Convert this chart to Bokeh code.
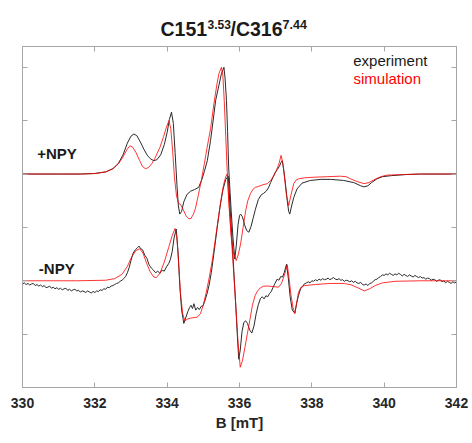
from bokeh.plotting import figure
from bokeh.layouts import column
from bokeh.models import Range1d, LinearAxis, FixedTicker, Label
from bokeh.embed import file_html
from bokeh.resources import INLINE

# ---------------- data (B in mT, signal relative to its own baseline) ----------------
x_ticks = [330, 332, 334, 336, 338, 340, 342]
y_ticks = [0, 1, 2, 3, 4, 5, 6]
offset_plus = 4.0
offset_minus = 2.0

plus_exp = [
    (330.0, 0.0), (331.0, 0.0), (331.6, 0.0), (332.0, 0.01), (332.3, 0.04), (332.5, 0.1), (332.65, 0.2),
    (332.78, 0.36), (332.9, 0.58), (333.0, 0.71), (333.08, 0.75), (333.16, 0.72), (333.26, 0.6),
    (333.36, 0.46), (333.46, 0.34), (333.55, 0.28), (333.63, 0.25), (333.72, 0.27), (333.82, 0.36),
    (333.92, 0.55), (334.0, 0.78), (334.06, 1.02), (334.12, 1.16), (334.17, 0.95), (334.22, 0.4),
    (334.27, -0.2), (334.31, -0.6), (334.35, -0.75), (334.4, -0.7), (334.46, -0.52), (334.55, -0.38),
    (334.65, -0.32), (334.76, -0.29), (334.87, -0.25), (334.95, -0.12), (335.03, 0.05), (335.11, 0.25),
    (335.2, 0.63), (335.28, 1.05), (335.34, 1.38), (335.43, 1.66), (335.5, 1.88), (335.57, 2.0),
    (335.6, 1.8), (335.64, 1.38), (335.67, 0.8), (335.7, 0.13), (335.74, -0.35), (335.77, -0.69),
    (335.82, -1.2), (335.87, -1.59), (335.91, -1.35), (335.96, -0.95), (336.0, -0.78), (336.03, -0.75),
    (336.08, -0.8), (336.14, -0.95), (336.2, -1.06), (336.26, -1.09), (336.32, -0.98), (336.38, -0.82),
    (336.44, -0.66), (336.52, -0.48), (336.6, -0.39), (336.67, -0.36), (336.74, -0.32), (336.8, -0.26),
    (336.86, -0.16), (336.92, -0.07), (336.98, 0.02), (337.04, 0.08), (337.1, 0.14), (337.15, 0.22),
    (337.18, 0.25), (337.22, 0.1), (337.27, -0.18), (337.32, -0.5), (337.36, -0.7), (337.39, -0.75),
    (337.44, -0.6), (337.5, -0.44), (337.59, -0.28), (337.73, -0.17), (337.96, -0.12), (338.25, -0.1),
    (338.52, -0.1), (338.88, -0.12), (339.16, -0.16), (339.35, -0.22), (339.44, -0.24), (339.55, -0.22),
    (339.65, -0.16), (339.8, -0.09), (339.95, -0.05), (340.2, -0.03), (340.6, -0.01), (341.0, 0.0),
    (342.0, 0.0),
]

plus_sim = [
    (330.0, 0.0), (331.0, 0.0), (331.6, 0.0), (332.0, 0.01), (332.3, 0.04), (332.5, 0.1), (332.65, 0.19),
    (332.78, 0.32), (332.88, 0.45), (332.97, 0.53), (333.05, 0.5), (333.14, 0.4), (333.24, 0.25),
    (333.32, 0.14), (333.4, 0.1), (333.48, 0.12), (333.58, 0.2), (333.68, 0.32), (333.8, 0.5),
    (333.9, 0.7), (333.98, 0.88), (334.05, 1.0), (334.1, 0.85), (334.15, 0.45), (334.2, -0.05),
    (334.26, -0.42), (334.32, -0.55), (334.37, -0.57), (334.44, -0.66), (334.52, -0.78), (334.6, -0.84),
    (334.66, -0.83), (334.72, -0.76), (334.78, -0.65), (334.86, -0.4), (334.95, -0.1), (335.03, 0.2),
    (335.1, 0.48), (335.2, 0.85), (335.3, 1.35), (335.38, 1.7), (335.43, 1.88), (335.5, 2.0),
    (335.54, 1.85), (335.58, 1.35), (335.62, 0.7), (335.66, 0.05), (335.71, -0.6), (335.77, -1.15),
    (335.83, -1.48), (335.91, -1.62), (335.97, -1.5), (336.03, -1.31), (336.1, -1.0), (336.17, -0.69),
    (336.23, -0.5), (336.3, -0.37), (336.38, -0.28), (336.44, -0.25), (336.53, -0.23), (336.65, -0.2),
    (336.77, -0.18), (336.86, -0.12), (336.95, -0.03), (337.02, 0.07), (337.09, 0.19), (337.15, 0.35),
    (337.2, 0.2), (337.25, -0.1), (337.3, -0.4), (337.36, -0.59), (337.42, -0.4), (337.5, -0.18),
    (337.57, -0.11), (337.64, -0.09), (337.8, -0.07), (338.05, -0.06), (338.4, -0.05), (338.79, -0.04),
    (338.95, -0.05), (339.07, -0.09), (339.25, -0.14), (339.44, -0.18), (339.58, -0.16), (339.71, -0.11),
    (339.9, -0.05), (340.08, -0.02), (340.5, -0.01), (341.0, 0.0), (342.0, 0.0),
]

minus_exp = [
    (330.00, -0.06), (330.05, -0.04), (330.10, -0.07), (330.15, -0.05), (330.20, -0.08), (330.25, -0.06),
    (330.30, -0.05), (330.35, -0.09), (330.40, -0.07), (330.45, -0.10), (330.50, -0.08), (330.55, -0.11),
    (330.60, -0.09), (330.65, -0.13), (330.70, -0.12), (330.75, -0.10), (330.80, -0.14), (330.85, -0.12),
    (330.90, -0.15), (330.95, -0.13), (331.00, -0.16), (331.05, -0.14), (331.10, -0.17), (331.15, -0.15),
    (331.20, -0.14), (331.25, -0.18), (331.30, -0.16), (331.35, -0.19), (331.40, -0.17), (331.45, -0.16),
    (331.50, -0.19), (331.55, -0.18), (331.60, -0.21), (331.65, -0.19), (331.70, -0.20), (331.75, -0.22),
    (331.80, -0.19), (331.85, -0.21), (331.90, -0.23), (331.95, -0.20), (332.00, -0.22), (332.05, -0.19),
    (332.10, -0.20), (332.15, -0.17), (332.20, -0.18), (332.25, -0.15), (332.30, -0.16), (332.35, -0.12),
    (332.40, -0.13), (332.45, -0.10), (332.50, -0.09), (332.55, -0.07), (332.60, -0.05), (332.65, -0.04),
    (332.70, -0.01), (332.75, 0.01), (332.80, 0.04), (332.85, 0.08), (332.90, 0.15), (332.95, 0.25),
    (333.00, 0.38), (333.06, 0.52), (333.12, 0.58), (333.18, 0.62), (333.22, 0.65),
    (333.27, 0.60), (333.32, 0.58), (333.38, 0.48), (333.44, 0.42), (333.50, 0.30), (333.56, 0.24),
    (333.62, 0.20), (333.68, 0.15), (333.74, 0.18), (333.80, 0.14), (333.86, 0.20), (333.92, 0.18),
    (333.98, 0.26), (334.04, 0.32), (334.09, 0.40), (334.14, 0.55), (334.19, 0.80), (334.25, 0.97),
    (334.30, 0.55), (334.35, -0.10), (334.40, -0.55), (334.46, -0.80), (334.52, -0.68), (334.57, -0.58),
    (334.62, -0.50), (334.66, -0.46), (334.70, -0.52), (334.74, -0.43), (334.79, -0.55), (334.84, -0.50),
    (334.89, -0.54), (334.94, -0.48), (334.99, -0.47), (335.04, -0.38), (335.10, -0.25), (335.16, -0.08),
    (335.22, 0.15), (335.30, 0.55), (335.38, 0.98), (335.46, 1.38), (335.54, 1.70), (335.62, 1.90),
    (335.69, 1.96), (335.75, 1.25), (335.80, 0.70), (335.85, 0.10), (335.90, -0.50), (335.95, -1.15),
    (335.98, -1.47), (336.02, -1.30), (336.07, -0.95), (336.12, -0.78), (336.17, -0.75), (336.22, -0.80),
    (336.28, -0.92), (336.34, -0.98), (336.40, -0.85), (336.46, -0.62), (336.52, -0.45), (336.58, -0.33),
    (336.63, -0.30), (336.68, -0.34), (336.73, -0.28), (336.78, -0.30), (336.83, -0.24), (336.88, -0.20),
    (336.93, -0.12), (336.98, -0.05), (337.04, 0.03), (337.09, 0.01), (337.14, 0.08), (337.19, 0.07),
    (337.24, 0.16), (337.30, 0.31), (337.35, 0.05), (337.40, -0.30), (337.46, -0.55), (337.53, -0.61),
    (337.58, -0.42), (337.63, -0.28), (337.69, -0.15), (337.74, -0.11), (337.79, -0.06), (337.85, -0.04),
    (337.90, -0.02), (337.95, -0.04), (338.00, 0.00), (338.05, -0.01), (338.10, 0.02), (338.15, 0.00),
    (338.20, 0.03), (338.25, 0.01), (338.30, 0.04), (338.35, 0.02), (338.40, 0.03), (338.45, 0.05),
    (338.50, 0.02), (338.55, 0.04), (338.60, 0.06), (338.65, 0.03), (338.70, 0.02), (338.75, 0.04),
    (338.80, 0.01), (338.85, 0.02), (338.90, -0.01), (338.95, 0.01), (339.00, 0.00), (339.05, -0.02),
    (339.10, 0.00), (339.15, -0.03), (339.20, -0.01), (339.25, -0.04), (339.30, -0.05), (339.35, -0.03),
    (339.40, -0.07), (339.45, -0.08), (339.50, -0.06), (339.55, -0.09), (339.60, -0.05), (339.65, -0.04),
    (339.70, -0.01), (339.75, 0.02), (339.80, 0.03), (339.85, 0.06), (339.90, 0.08), (339.95, 0.11),
    (340.00, 0.10), (340.05, 0.13), (340.10, 0.11), (340.15, 0.14), (340.20, 0.12), (340.25, 0.10),
    (340.30, 0.13), (340.35, 0.11), (340.40, 0.14), (340.45, 0.12), (340.50, 0.09), (340.55, 0.12),
    (340.60, 0.10), (340.65, 0.08), (340.70, 0.11), (340.75, 0.09), (340.80, 0.07), (340.85, 0.10),
    (340.90, 0.08), (340.95, 0.06), (341.00, 0.08), (341.05, 0.05), (341.10, 0.06), (341.15, 0.03),
    (341.20, 0.05), (341.25, 0.04), (341.30, 0.01), (341.35, 0.03), (341.40, 0.02), (341.45, -0.01),
    (341.50, 0.01), (341.55, 0.02), (341.60, -0.02), (341.65, 0.00), (341.70, -0.04), (341.75, -0.01),
    (341.80, -0.03), (341.85, -0.05), (341.90, -0.02), (341.95, -0.04), (342.00, -0.02),
]

minus_sim = [
    (330.0, 0.0), (331.5, 0.0), (332.3, 0.01), (332.55, 0.04), (332.75, 0.12), (332.9, 0.27),
    (333.02, 0.45), (333.14, 0.57), (333.24, 0.6), (333.33, 0.52), (333.43, 0.33), (333.53, 0.17),
    (333.63, 0.07), (333.7, 0.06), (333.8, 0.14), (333.92, 0.35), (334.04, 0.62), (334.14, 0.85),
    (334.22, 0.98), (334.27, 0.8), (334.32, 0.3), (334.37, -0.25), (334.43, -0.62), (334.49, -0.75),
    (334.56, -0.72), (334.65, -0.7), (334.74, -0.69), (334.83, -0.68), (334.92, -0.62), (335.0, -0.45),
    (335.08, -0.22), (335.16, 0.05), (335.24, 0.35), (335.32, 0.72), (335.4, 1.1), (335.48, 1.48),
    (335.56, 1.8), (335.62, 1.95), (335.66, 2.0), (335.7, 1.6), (335.74, 1.15), (335.78, 0.75),
    (335.84, 0.15), (335.9, -0.5), (335.96, -1.15), (336.02, -1.62), (336.08, -1.5), (336.15, -1.25),
    (336.22, -0.98), (336.29, -0.72), (336.36, -0.45), (336.43, -0.28), (336.5, -0.19), (336.58, -0.13),
    (336.67, -0.1), (336.8, -0.1), (336.95, -0.11), (337.08, -0.12), (337.16, -0.05), (337.24, 0.1),
    (337.32, 0.3), (337.37, 0.05), (337.42, -0.25), (337.48, -0.5), (337.53, -0.61), (337.58, -0.42),
    (337.63, -0.22), (337.7, -0.12), (337.8, -0.09), (338.1, -0.07), (338.5, -0.05), (338.9, -0.05),
    (339.1, -0.08), (339.3, -0.14), (339.45, -0.19), (339.6, -0.15), (339.75, -0.09), (339.95, -0.04),
    (340.3, -0.01), (341.0, 0.0), (342.0, 0.0),
]

# ---------------- layout geometry (pixels) ----------------
X0, X1 = 330, 342
Y0, Y1 = 0, 6.39
W, H = 472, 443
TITLE_H = 40                     # height of the title strip
FL, FR = 22, 456                 # frame left / right (px)
FT, FB = 46, 387                 # frame top / bottom (px, page coordinates)
FONT = "Liberation Sans"
FRAME = "#a6a6a6"
LIFT = 5.5                       # measured baseline correction of the renderer (px)

def dx(px):
    return X0 + (px - FL) * (X1 - X0) / (FR - FL)

def dy(py):
    return Y0 + (FB - py) * (Y1 - Y0) / (FB - FT)

# ---------------- title strip ----------------
t = figure(width=W, height=TITLE_H, x_range=Range1d(X0, X1), y_range=Range1d(0, TITLE_H),
           output_backend="svg", toolbar_location=None, x_axis_location=None, y_axis_location=None,
           min_border_left=FL, min_border_right=W - FR, min_border_top=0, min_border_bottom=0)
t.grid.visible = False
t.outline_line_color = None
t.border_fill_color = "white"
t.background_fill_color = "white"

def title_text(text, px, py, size, lift):
    t.add_layout(Label(x=dx(px), y=TITLE_H - (py - lift), text=text, text_font=FONT, text_font_size=size,
                       text_font_style="bold", text_color="#1a1a1a",
                       text_align="left", text_baseline="alphabetic"))

title_text("C151", 160, 34, "19.5px", 6.0)
title_text("3.53", 207, 28.3, "12px", 4.5)
title_text("/C316", 230, 34, "19.5px", 6.0)
title_text("7.44", 282, 28.3, "12.5px", 4.5)

# ---------------- main plot ----------------
p = figure(width=W, height=H - TITLE_H, x_range=Range1d(X0, X1), y_range=Range1d(Y0, Y1),
           output_backend="svg", toolbar_location=None,
           min_border_left=FL, min_border_right=W - FR,
           min_border_top=FT - TITLE_H, min_border_bottom=H - FB)
p.grid.visible = False
p.background_fill_color = "white"
p.border_fill_color = "white"
p.outline_line_color = FRAME

def tick_only_axis(ax, ticks):
    # tick marks only (as minor ticks), so that no label texts are produced
    ax.ticker = FixedTicker(ticks=[], minor_ticks=ticks)
    ax.axis_line_color = FRAME
    ax.minor_tick_line_color = FRAME
    ax.minor_tick_in = 5
    ax.minor_tick_out = 0
    ax.major_tick_line_color = None
    ax.major_label_standoff = 0

xa = p.xaxis[0]
xa.ticker = FixedTicker(ticks=x_ticks)
xa.axis_line_color = FRAME
xa.major_tick_line_color = FRAME
xa.minor_tick_line_color = None
xa.major_tick_in = 5
xa.major_tick_out = 0
xa.major_label_text_font = FONT
xa.major_label_text_font_size = "14px"
xa.major_label_text_font_style = "bold"
xa.major_label_text_color = "#262626"
xa.major_label_standoff = 10
xa.axis_label = "B [mT]"
xa.axis_label_text_font = FONT
xa.axis_label_text_font_size = "15px"
xa.axis_label_text_font_style = "bold"
xa.axis_label_text_color = "#262626"
xa.axis_label_standoff = 3

tick_only_axis(p.yaxis[0], y_ticks)
top = LinearAxis()
tick_only_axis(top, x_ticks)
p.add_layout(top, "above")
right = LinearAxis()
tick_only_axis(right, y_ticks)
p.add_layout(right, "right")

# ---------------- traces ----------------
def unzip(pairs, off):
    return [b for b, _ in pairs], [v + off for _, v in pairs]

BLACK = "#2a2a2a"
RED = "#ff0000"
for pairs, off in ((plus_exp, offset_plus), (minus_exp, offset_minus)):
    xs, ys = unzip(pairs, off)
    p.line(xs, ys, line_color=BLACK, line_width=1.0)
for pairs, off in ((plus_sim, offset_plus), (minus_sim, offset_minus)):
    xs, ys = unzip(pairs, off)
    p.line(xs, ys, line_color=RED, line_width=1.0, line_alpha=0.8)

# ---------------- texts inside the frame ----------------
def add_text(text, px, py, size, style="normal", color="#1a1a1a"):
    p.add_layout(Label(x=dx(px), y=dy(py - LIFT), text=text, text_font=FONT, text_font_size=size,
                       text_font_style=style, text_color=color,
                       text_align="left", text_baseline="alphabetic"))

add_text("experiment", 352.7, 65, "15px")
add_text("simulation", 353, 83.3, "15px", color="#ff0000")
add_text("+NPY", 36.7, 158.3, "15px", "bold")
add_text("-NPY", 38.3, 273.3, "15px", "bold")

layout = column(t, p, spacing=0)
open("out.html", "w").write(file_html(layout, INLINE))
